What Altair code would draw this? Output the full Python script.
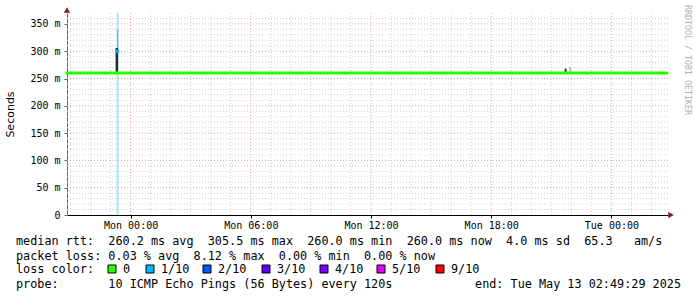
import altair as alt
import pandas as pd

# ---------------- data ----------------
median_start = ["2025-05-11T20:49:29Z", "2025-05-11T23:19:30Z", "2025-05-11T23:21:30Z"]
median_end = ["2025-05-11T23:19:30Z", "2025-05-11T23:21:30Z", "2025-05-13T02:46:00Z"]
median_value = [260.0, 300.0, 260.0]
median_loss = ["0", "1/10", "0"]

smoke_start = ["2025-05-11T23:15:00Z", "2025-05-11T23:20:00Z", "2025-05-12T21:40:00Z", "2025-05-12T21:55:00Z"]
smoke_end = ["2025-05-11T23:22:30Z", "2025-05-11T23:22:30Z", "2025-05-12T21:46:00Z", "2025-05-12T21:58:00Z"]
smoke_low = [262.0, 306.0, 260.0, 260.0]
smoke_high = [306.0, 340.0, 268.0, 271.0]
smoke_shade = ["dark", "light", "dark", "light"]

loss_start = ["2025-05-11T23:18:00Z"]
loss_end = ["2025-05-11T23:24:00Z"]
loss_level = ["1/10"]

loss_labels = ["0", "1/10", "2/10", "3/10", "4/10", "5/10", "9/10"]
loss_colors = ["#26ff00", "#00b8ff", "#0059ff", "#5e00ff", "#7e00ff", "#dd00ff", "#ff0000"]

y_ticks = [0, 50, 100, 150, 200, 250, 300, 350]
x_label_times = ["2025-05-12T00:00:00Z", "2025-05-12T06:00:00Z", "2025-05-12T12:00:00Z",
                 "2025-05-12T18:00:00Z", "2025-05-13T00:00:00Z"]

line_rtt = "median rtt:  260.2 ms avg  305.5 ms max  260.0 ms min  260.0 ms now  4.0 ms sd  65.3   am/s"
line_loss = "packet loss: 0.03 % avg  8.12 % max  0.00 % min  0.00 % now"
line_color = "loss color:"
line_probe = "probe:       10 ICMP Echo Pings (56 Bytes) every 120s"
line_end = "end: Tue May 13 02:49:29 2025"
side_text = "RRDTOOL / TOBI OETIKER"
y_title = "Seconds"

# ---------------- layout ----------------
W, H = 601, 202
PAD_L, PAD_T = 67, 13
MONO = "DejaVu Sans Mono"
X_START = "2025-05-11T20:49:29Z"
X_END = "2025-05-13T02:49:29Z"


def dt(s):
    t = pd.Timestamp(s)
    return alt.DateTime(year=t.year, month=t.month, date=t.day, hours=t.hour,
                        minutes=t.minute, seconds=t.second, utc=True)


x_scale = alt.Scale(type="utc", domain=[dt(X_START), dt(X_END)])
y_scale = alt.Scale(domain=[0, 370], nice=False, zero=True)

x_axis = alt.Axis(
    values=[dt(s) for s in x_label_times], format="%a %H:%M", grid=False,
    domainColor="#000000", tickColor="#000000", tickSize=3, labelPadding=2,
    labelFont=MONO, labelFontSize=10, labelColor="#000000", title=None)
y_axis = alt.Axis(
    values=y_ticks, grid=False, domainColor="#666666", tickColor="#666666", tickSize=3,
    labelPadding=4, labelFont=MONO, labelFontSize=10, labelColor="#000000",
    labelExpr="datum.value == 0 ? '0' : datum.value + ' m'",
    title=y_title, titleFont="DejaVu Sans", titleFontSize=11, titleFontWeight="normal",
    titleColor="#000000", titleX=-57, titleY=101, titleAlign="center", titleBaseline="middle")

# grid positions (style)
hours = pd.date_range("2025-05-11T21:00:00Z", "2025-05-13T02:00:00Z", freq="h")
major_set = set(pd.Timestamp(s) for s in x_label_times)
minor_hours = [h.strftime("%Y-%m-%dT%H:%M:%SZ") for h in hours if h not in major_set]
minor_vals = [v for v in range(10, 370, 10) if v % 50 != 0]
major_vals = [v for v in y_ticks if v > 0]

MINOR_C = "#d2d2d2"
MAJOR_C = "#eaa0a0"

vgrid_minor = alt.Chart(pd.DataFrame({"t": minor_hours})).mark_rule(
    color=MINOR_C, strokeDash=[1, 2], strokeWidth=1).encode(
    x=alt.X("t:T", scale=x_scale, axis=x_axis))
vgrid_major = alt.Chart(pd.DataFrame({"t": x_label_times})).mark_rule(
    color=MAJOR_C, strokeDash=[1, 2], strokeWidth=1).encode(
    x=alt.X("t:T", scale=x_scale, axis=x_axis))
hgrid_minor = alt.Chart(pd.DataFrame({"v": minor_vals})).mark_rule(
    color=MINOR_C, strokeDash=[1, 2], strokeWidth=1).encode(
    y=alt.Y("v:Q", scale=y_scale, axis=y_axis))
hgrid_major = alt.Chart(pd.DataFrame({"v": major_vals})).mark_rule(
    color=MAJOR_C, strokeDash=[1, 2], strokeWidth=1).encode(
    y=alt.Y("v:Q", scale=y_scale, axis=y_axis))

loss_band = alt.Chart(pd.DataFrame({"t": loss_start, "t2": loss_end, "loss": loss_level})).mark_rect(
    opacity=0.35).encode(
    x=alt.X("t:T", scale=x_scale, axis=x_axis), x2="t2:T",
    y=alt.value(0), y2=alt.value(H),
    color=alt.Color("loss:N", scale=alt.Scale(domain=loss_labels, range=loss_colors), legend=None))

smoke = alt.Chart(pd.DataFrame({"t": smoke_start, "t2": smoke_end, "lo": smoke_low,
                                "hi": smoke_high, "shade": smoke_shade})).mark_rect().encode(
    x=alt.X("t:T", scale=x_scale, axis=x_axis), x2="t2:T",
    y=alt.Y("lo:Q", scale=y_scale, axis=y_axis), y2="hi:Q",
    fill=alt.Fill("shade:N", scale=alt.Scale(domain=["dark", "light"], range=["#2a2a2a", "#8c8c8c"]),
                  legend=None))

median = alt.Chart(pd.DataFrame({"t": median_start, "t2": median_end, "v": median_value,
                                 "loss": median_loss})).mark_rule(
    strokeWidth=3, strokeCap="square").encode(
    x=alt.X("t:T", scale=x_scale, axis=x_axis), x2="t2:T",
    y=alt.Y("v:Q", scale=y_scale, axis=y_axis),
    stroke=alt.Stroke("loss:N", scale=alt.Scale(domain=loss_labels, range=loss_colors), legend=None))

# arrows on the axes
x_arrow = alt.Chart(pd.DataFrame({"a": [0]})).mark_point(
    shape="triangle-right", filled=True, size=40, color="#8b1a1a", opacity=1).encode(
    x=alt.value(W + 3), y=alt.value(H))
y_arrow = alt.Chart(pd.DataFrame({"a": [0]})).mark_point(
    shape="triangle-up", filled=True, size=40, color="#8b1a1a", opacity=1).encode(
    x=alt.value(0), y=alt.value(-3))

layers = [vgrid_minor, hgrid_minor, vgrid_major, hgrid_major, loss_band, smoke, median, x_arrow, y_arrow]

NBSP = "\u00a0"


def text_layer(s, x, y, align="left", size=11.8, color="#000000", angle=0, font=MONO):
    kw = dict(align=align, baseline="middle", font=font, fontSize=size, color=color)
    if angle:
        kw["angle"] = angle
    return alt.Chart(pd.DataFrame({"s": [s.replace(" ", NBSP)]})).mark_text(**kw).encode(
        x=alt.value(x), y=alt.value(y), text="s:N")


TX = 16 - PAD_L
layers.append(text_layer(line_rtt, TX, 241 - PAD_T))
layers.append(text_layer(line_loss, TX, 256 - PAD_T))
layers.append(text_layer(line_color, TX, 269 - PAD_T))
layers.append(text_layer(line_probe, TX, 284 - PAD_T))
layers.append(text_layer(line_end, 681 - PAD_L, 284 - PAD_T, align="right"))
layers.append(text_layer(side_text, 687 - PAD_L, 5 - PAD_T, size=8.3, color="#b0b0b0", angle=90))

box_x = [108, 146, 203, 262, 320, 377, 436]
for bx, lab, col in zip(box_x, loss_labels, loss_colors):
    box = alt.Chart(pd.DataFrame({"s": [lab]})).mark_rect(
        color=col, stroke="#000000", strokeWidth=1).encode(
        x=alt.value(bx - PAD_L), x2=alt.value(bx - PAD_L + 8),
        y=alt.value(265 - PAD_T), y2=alt.value(273 - PAD_T))
    layers.append(box)
    layers.append(text_layer(lab, bx + 15 - PAD_L, 269 - PAD_T))

chart = alt.layer(*layers).resolve_scale(
    color="independent", fill="independent", stroke="independent"
).properties(
    width=W, height=H,
    autosize=alt.AutoSizeParams(type="none"),
    padding={"left": PAD_L, "top": PAD_T, "right": 697 - PAD_L - W, "bottom": 297 - PAD_T - H},
    background="#ffffff",
).configure_view(stroke=None)

chart.save("out.html", embed_options={"renderer": "svg", "actions": False})
